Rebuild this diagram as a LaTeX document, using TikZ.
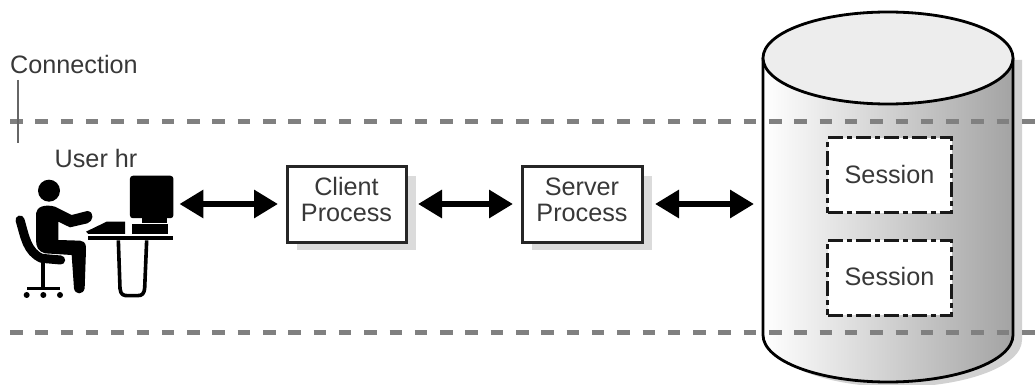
\documentclass[tikz,border=0pt]{standalone}
\usepackage{fontspec}
\setmainfont{Liberation Sans}
\usetikzlibrary{arrows.meta}
\definecolor{txt}{gray}{0.22}
\tikzset{
  lab/.style={font=\fontsize{25.2}{26}\selectfont,text=txt,inner sep=0pt,align=center},
  procbox/.style={draw=black!85,line width=3pt,fill=white,minimum width=119pt,minimum height=76pt,outer sep=0pt,lab,text depth=9pt},
  sessbox/.style={draw=black!90,line width=3pt,fill=white,minimum width=124pt,minimum height=75pt,outer sep=0pt,lab,text depth=2pt,dash pattern=on 15pt off 4pt on 5pt off 4pt},
  boxshadow/.style={fill=black!14,draw=none},
  sep/.style={draw=black!50,line width=5pt,dash pattern=on 12.5pt off 12.8pt},
  bothway/.style={line width=6pt,{Triangle[length=24pt,width=27pt]}-{Triangle[length=24pt,width=27pt]}},
  ink/.style={fill=black,draw=none},
  limb/.style={draw=black,line cap=round,line join=round}
}
\begin{document}
\begin{tikzpicture}[x=1pt,y=-1pt]
\useasboundingbox (0,0) rectangle (1035,385);
% cylinder shadow
\fill[black!18] (772,60) -- (772,340) arc[x radius=125,y radius=47,start angle=180,end angle=0] -- (1022,60) -- cycle;
% cylinder body
\shade[left color=white,middle color=black!12,right color=black!36] (763,58) -- (763,335) arc[x radius=125,y radius=47,start angle=180,end angle=0] -- (1013,58) -- cycle;
% separators
\coordinate (topL) at (10,122); \coordinate (topR) at (1035,122);
\coordinate (botL) at (10,332); \coordinate (botR) at (1035,332);
\draw[sep] (topL) -- (topR);
\draw[sep] (botL) -- (botR);
% cylinder outline and top
\draw[black,line width=2.8pt,line join=round] (763,58) -- (763,335) arc[x radius=125,y radius=47,start angle=180,end angle=0] -- (1013,58);
\draw[black,line width=2.8pt,fill=black!7] (888,58) ellipse[x radius=125,y radius=46];
\coordinate (db) at (763,204);
% leader and labels
\node[lab,anchor=base west] (conn) at (10,73.5) {Connection};
\coordinate (leadT) at (18,80); \coordinate (leadB) at (18,143);
\draw[black!60,line width=1.6pt] (leadT) -- (leadB);
\node[lab,anchor=base] (user) at (96,167) {User hr};
% process boxes
\fill[boxshadow] (297,176) rectangle (416,250);
\fill[boxshadow] (532,176) rectangle (652,250);
\node[procbox] (client) at (346.5,204) {Client\\Process};
\node[procbox,minimum width=120pt] (server) at (582,204) {Server\\Process};
% sessions
\node[sessbox] (s1) at (889.5,175) {Session};
\node[sessbox] (s2) at (889.5,277.5) {Session};
% figure
\begin{scope}[x=0.33333pt,y=-0.33333pt,shift={(0,120)}]
\fill[ink] (147,452) circle[radius=33];
% chair
\draw[limb,line width=9pt] (60,540) .. controls (75,590) and (80,635) .. (125,655) -- (182,660);
\draw[black,line width=4pt] (130,665) -- (130,745);
\draw[black,line width=3pt] (82,747) -- (180,747);
\foreach \cx in {80,130,180} \fill[ink] (\cx,765) circle[radius=9];
% body
\fill[ink] (108,520) .. controls (110,500) and (135,492) .. (165,500) -- (215,525) -- (262,513) .. controls (285,515) and (280,545) .. (262,550) -- (210,562) -- (175,545) -- (175,600) -- (240,602) .. controls (258,605) and (258,615) .. (258,630) -- (254,745) .. controls (250,765) and (225,765) .. (222,745) -- (215,645) -- (135,640) .. controls (115,635) and (108,620) .. (108,600) -- cycle;
% keyboard and desk
\fill[ink] (258,575) -- (320,545) -- (375,545) -- (375,582) -- (265,582) -- cycle;
\fill[ink] (395,552) -- (505,552) -- (505,582) -- (395,582) -- cycle;
\fill[ink] (265,588) rectangle (518,601);
\draw[black,line width=3.6pt,line join=round] (355,601) -- (360,745) .. controls (362,765) and (370,767) .. (385,767) -- (412,767) .. controls (428,767) and (432,760) .. (434,745) -- (440,601);
\fill[ink] (425,535) rectangle (500,548);
\node[ink,rounded corners=3pt,minimum width=43.5pt,minimum height=42.5pt,inner sep=0pt,outer sep=0pt] (monitor) at (455,471) {};
\end{scope}
% connectors
\draw[bothway,shorten <=6pt,shorten >=9pt] (monitor.east |- client.west) -- (client.west);
\draw[bothway,shorten <=12pt,shorten >=9pt] (client.east) -- (server.west);
\draw[bothway,shorten <=13pt,shorten >=9pt] (server.east) -- (db);
\end{tikzpicture}
\end{document}
